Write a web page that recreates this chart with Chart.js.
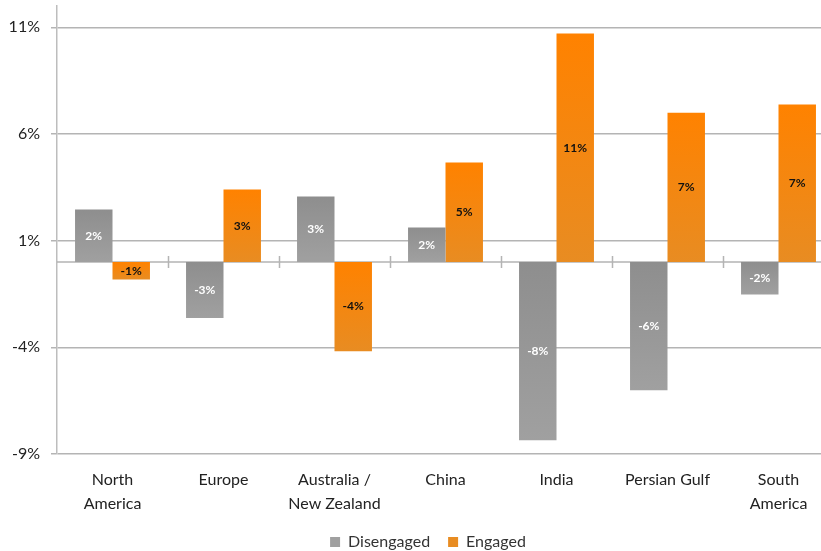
<!DOCTYPE html>
<html>
<head>
<meta charset="utf-8">
<script src="https://cdn.jsdelivr.net/npm/chart.js@4.4.1/dist/chart.umd.min.js"></script>
<style>
  html, body { margin: 0; padding: 0; background: #ffffff; overflow: hidden; }
  #wrap { position: relative; width: 834px; height: 551px; }
</style>
</head>
<body>
<div id="wrap"><canvas id="chart"></canvas></div>
<script>
// Regions on the x axis (multi-line labels as arrays)
const regions = [
  ['North', 'America'],
  'Europe',
  ['Australia /', 'New Zealand'],
  'China',
  'India',
  'Persian Gulf',
  ['South', 'America']
];

// Percentage-point values per region
const disengaged = [2.46, -2.63, 3.07, 1.62, -8.35, -6.01, -1.52];
const engaged    = [-0.82, 3.40, -4.18, 4.66, 10.71, 7.00, 7.38];

// Y axis tick values
const yTicks = [-9, -4, 1, 6, 11];

const FONT = 'Lato, "Open Sans", sans-serif';

// Vertical gradient per bar, from the bar's upper edge to its lower edge
function barFill(topColor, bottomColor) {
  return (c) => {
    const chart = c.chart;
    const y = chart.scales && chart.scales.y;
    if (c.type !== 'data' || !chart.chartArea || !y) return topColor;
    const v = c.raw;
    const p1 = y.getPixelForValue(Math.max(v, 0));
    const p2 = y.getPixelForValue(Math.min(v, 0));
    if (!isFinite(p1) || !isFinite(p2) || p1 === p2) return topColor;
    const g = chart.ctx.createLinearGradient(0, p1, 0, p2);
    g.addColorStop(0, topColor);
    g.addColorStop(1, bottomColor);
    return g;
  };
}

// Zero baseline with category separator ticks
const zeroLine = {
  id: 'zeroLine',
  beforeDatasetsDraw(chart) {
    const { ctx, chartArea, scales: { x, y } } = chart;
    const y0 = y.getPixelForValue(0);
    ctx.save();
    ctx.strokeStyle = '#b4b4b4';
    ctx.lineWidth = 1.5;
    ctx.beginPath();
    ctx.moveTo(chartArea.left, y0);
    ctx.lineTo(chartArea.right, y0);
    const n = chart.data.labels.length;
    for (let i = 1; i <= n; i++) {
      const bx = Math.round((x.getPixelForValue(i - 1) + x.getPixelForValue(i)) / 2) + 0.5;
      ctx.moveTo(bx, y0 - 6);
      ctx.lineTo(bx, y0 + 6);
    }
    ctx.stroke();
    ctx.restore();
  }
};

// Rounded value printed in the middle of each bar
const barLabels = {
  id: 'barLabels',
  afterDatasetsDraw(chart) {
    const ctx = chart.ctx;
    ctx.save();
    ctx.font = 'bold 12px ' + FONT;
    ctx.textAlign = 'center';
    ctx.textBaseline = 'middle';
    chart.data.datasets.forEach((ds, i) => {
      const meta = chart.getDatasetMeta(i);
      meta.data.forEach((bar, j) => {
        const v = ds.data[j];
        const p = bar.getProps(['x', 'y', 'base'], true);
        ctx.fillStyle = ds.labelColor;
        ctx.fillText(Math.round(v) + '%', p.x, (p.y + p.base) / 2);
      });
    });
    ctx.restore();
  }
};

// Centre the legend under the plot area
const legendShift = {
  id: 'legendShift',
  afterLayout(chart) {
    const lg = chart.legend;
    if (lg) { lg.left += 11; lg.right += 11; }
  }
};

new Chart(document.getElementById('chart'), {
  type: 'bar',
  data: {
    labels: regions,
    datasets: [
      {
        label: 'Disengaged',
        data: disengaged,
        backgroundColor: barFill('#8e8e8e', '#a0a0a0'),
        labelColor: '#ffffff',
        borderWidth: 0
      },
      {
        label: 'Engaged',
        data: engaged,
        backgroundColor: barFill('#ff8200', '#e88c22'),
        labelColor: '#111111',
        borderWidth: 0
      }
    ]
  },
  options: {
    responsive: true,
    maintainAspectRatio: false,
    animation: false,
    layout: { padding: { top: 6, right: 0, bottom: -9, left: 0 } },
    datasets: {
      bar: { barPercentage: 1.0, categoryPercentage: 0.675 }
    },
    plugins: {
      legend: {
        position: 'bottom',
        labels: {
          boxWidth: 10,
          boxHeight: 10,
          padding: 18,
          color: '#333333',
          font: { family: FONT, size: 16 }
        }
      },
      tooltip: { enabled: false }
    },
    scales: {
      x: {
        afterFit: (s) => { s.height = 62; },
        grid: { display: false, drawTicks: false },
        border: { display: false },
        ticks: {
          color: '#222222',
          padding: 14,
          maxRotation: 0,
          autoSkip: false,
          font: { family: FONT, size: 16, lineHeight: 1.5 }
        }
      },
      y: {
        min: -9,
        max: 12,
        afterBuildTicks: (s) => { s.ticks = yTicks.map(v => ({ value: v })); },
        afterFit: (s) => { s.width = 57; s.paddingTop = 0; s.paddingBottom = 0; },
        grid: { color: '#b4b4b4', lineWidth: 1.5, tickLength: 6 },
        border: { display: true, color: '#bdbdbd', width: 1.5 },
        ticks: {
          color: '#222222',
          padding: 11,
          font: { family: FONT, size: 16 },
          callback: (v) => v + '%'
        }
      }
    }
  },
  plugins: [zeroLine, barLabels, legendShift]
});
</script>
</body>
</html>
